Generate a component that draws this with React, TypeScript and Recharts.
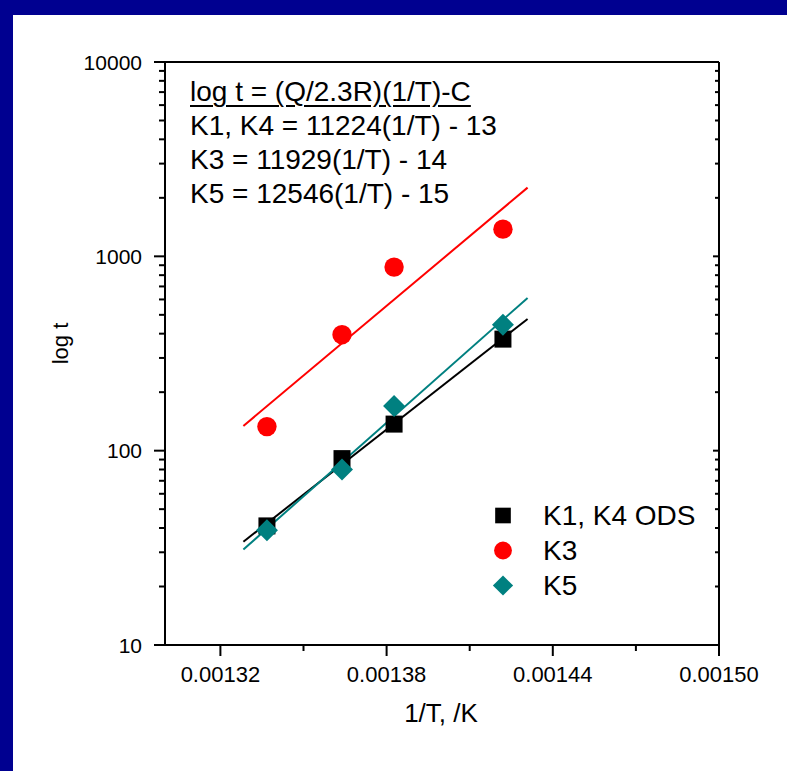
import React from 'react';
import { ScatterChart, Scatter, XAxis, YAxis, Legend } from 'recharts';

// reciprocal annealing temperature, 1/K
const invTemp = [0.0013368, 0.0013639, 0.0013827, 0.001422];

// time to reach the property drop, hours
const timeK1K4 = [41, 91, 137, 375];
const timeK3 = [133, 395, 880, 1380];
const timeK5 = [39, 80, 170, 445];

// end points of the fitted Arrhenius lines
const fitInvTemp = [0.0013283, 0.0014309];
const fitK1K4 = [34, 476];
const fitK3 = [134, 2257];
const fitK5 = [31, 611];

const seriesNames = ['K1, K4 ODS', 'K3', 'K5'];

const xMajorTicks = [0.00132, 0.00138, 0.00144, 0.0015];
const xMinorTicks = [0.00135, 0.00141, 0.00147];
const yMajorTicks = [10, 100, 1000, 10000];
const yMinorTicks = [
  20, 30, 40, 50, 60, 70, 80, 90,
  200, 300, 400, 500, 600, 700, 800, 900,
  2000, 3000, 4000, 5000, 6000, 7000, 8000, 9000,
];

const equationLines = [
  'log t = (Q/2.3R)(1/T)-C',
  'K1, K4 = 11224(1/T) - 13',
  'K3 = 11929(1/T) - 14',
  'K5 = 12546(1/T) - 15',
];

const FONT = '"Liberation Sans", Arial, Helvetica, sans-serif';
const NAVY = '#000090';
const TEAL = '#008080';

const xTicks = [...xMajorTicks, ...xMinorTicks].sort((a, b) => a - b);
const yTicks = [...yMajorTicks, ...yMinorTicks].sort((a, b) => a - b);

const toPoints = (xs: number[], ts: number[]) => xs.map((x, i) => ({ x, t: ts[i] }));

const k1Points = toPoints(invTemp, timeK1K4);
const k3Points = toPoints(invTemp, timeK3);
const k5Points = toPoints(invTemp, timeK5);
const k1Fit = toPoints(fitInvTemp, fitK1K4);
const k3Fit = toPoints(fitInvTemp, fitK3);
const k5Fit = toPoints(fitInvTemp, fitK5);

function drawMarker(name: string, cx: number, cy: number, scale = 1) {
  if (name === 'K3') {
    return <circle cx={cx} cy={cy} r={9.7 * scale} fill="#ff0000" />;
  }
  if (name === 'K5') {
    const h = 11 * scale;
    return (
      <polygon
        points={`${cx},${cy - h} ${cx + h},${cy} ${cx},${cy + h} ${cx - h},${cy}`}
        fill={TEAL}
      />
    );
  }
  const s = 8.5 * scale;
  return <rect x={cx - s} y={cy - s} width={s * 2} height={s * 2} fill="#000" />;
}

const squareShape = (p: any) => drawMarker('K1, K4 ODS', p.cx, p.cy);
const circleShape = (p: any) => drawMarker('K3', p.cx, p.cy);
const diamondShape = (p: any) => drawMarker('K5', p.cx, p.cy);
const noShape = () => <g />;

// ticks are drawn by hand so major and minor marks get different lengths
function BottomTick({ x, y, payload }: any) {
  const major = xMajorTicks.includes(payload.value);
  return (
    <g>
      <line x1={x} y1={y} x2={x} y2={y + (major ? 11 : 6)} stroke="#000" strokeWidth={2} />
      {major && (
        <text x={x} y={y + 37} textAnchor="middle" fontSize={22} fontFamily={FONT} fill="#000">
          {payload.value.toFixed(5)}
        </text>
      )}
    </g>
  );
}

function TopTick({ x, y, payload }: any) {
  const major = xMajorTicks.includes(payload.value);
  return <line x1={x} y1={y} x2={x} y2={y + (major ? 6 : 4)} stroke="#000" strokeWidth={2} />;
}

function LeftTick({ x, y, payload }: any) {
  const major = yMajorTicks.includes(payload.value);
  return (
    <g>
      <line x1={x - (major ? 11 : 6)} y1={y} x2={x} y2={y} stroke="#000" strokeWidth={2} />
      {major && (
        <text x={x - 23} y={y} dy="0.36em" textAnchor="end" fontSize={21} fontFamily={FONT} fill="#000">
          {String(payload.value)}
        </text>
      )}
    </g>
  );
}

function RightTick({ x, y, payload }: any) {
  const major = yMajorTicks.includes(payload.value);
  return <line x1={x - (major ? 6 : 4)} y1={y} x2={x} y2={y} stroke="#000" strokeWidth={2} />;
}

function LegendContent({ payload }: any) {
  const items = (payload || []).filter((entry: any) => seriesNames.includes(entry.value));
  return (
    <div style={{ fontFamily: FONT, fontSize: 28, lineHeight: '35px', color: '#000' }}>
      {items.map((entry: any) => (
        <div key={entry.value} style={{ display: 'flex', alignItems: 'center', height: 35 }}>
          <svg width={26} height={35} style={{ display: 'block' }}>
            {drawMarker(entry.value, 13, 17.5, 0.92)}
          </svg>
          <span style={{ marginLeft: 27, whiteSpace: 'nowrap' }}>{entry.value}</span>
        </div>
      ))}
    </div>
  );
}

const axisLine = { stroke: '#000', strokeWidth: 2 };

export default function App() {
  return (
    <div style={{ position: 'absolute', left: 0, top: 0, width: 787, height: 771, background: '#fff', overflow: 'hidden' }}>
      <div style={{ position: 'absolute', left: 0, top: 0, width: 787, height: 15, background: NAVY }} />
      <div style={{ position: 'absolute', left: 0, top: 0, width: 13, height: 771, background: NAVY }} />

      <div style={{ position: 'absolute', left: 0, top: 0 }}>
        <ScatterChart width={787} height={771} margin={{ top: 62, right: 68, bottom: 0, left: 0 }}>
          <XAxis
            xAxisId="x"
            dataKey="x"
            type="number"
            domain={[0.0013, 0.0015]}
            allowDataOverflow
            ticks={xTicks}
            interval={0}
            height={126}
            tickSize={0}
            tickMargin={0}
            tickLine={false}
            axisLine={axisLine}
            tick={<BottomTick />}
            label={(props: any) => {
              const vb = props.viewBox;
              return (
                <text x={vb.x + vb.width / 2 - 1} y={vb.y + 77} textAnchor="middle" fontSize={26} fontFamily={FONT} fill="#000">
                  1/T, /K
                </text>
              );
            }}
          />
          <XAxis
            xAxisId="top"
            orientation="top"
            mirror
            type="number"
            domain={[0.0013, 0.0015]}
            allowDataOverflow
            ticks={xTicks}
            interval={0}
            tickSize={0}
            tickMargin={0}
            tickLine={false}
            axisLine={axisLine}
            tick={<TopTick />}
          />
          <YAxis
            yAxisId="y"
            dataKey="t"
            type="number"
            scale="log"
            domain={[10, 10000]}
            allowDataOverflow
            ticks={yTicks}
            interval={0}
            width={165}
            tickSize={0}
            tickMargin={0}
            tickLine={false}
            axisLine={axisLine}
            tick={<LeftTick />}
            label={(props: any) => {
              const vb = props.viewBox;
              const cx = vb.x + 68;
              const cy = vb.y + vb.height / 2 - 10;
              return (
                <text x={cx} y={cy} transform={`rotate(-90 ${cx} ${cy})`} textAnchor="middle" fontSize={22} fontFamily={FONT} fill="#000">
                  log t
                </text>
              );
            }}
          />
          <YAxis
            yAxisId="right"
            orientation="right"
            mirror
            type="number"
            scale="log"
            domain={[10, 10000]}
            allowDataOverflow
            ticks={yTicks}
            interval={0}
            tickSize={0}
            tickMargin={0}
            tickLine={false}
            axisLine={axisLine}
            tick={<RightTick />}
          />

          <Scatter xAxisId="x" yAxisId="y" data={k1Fit} fill="#000" line={{ stroke: '#000', strokeWidth: 2 }} shape={noShape} legendType="none" isAnimationActive={false} />
          <Scatter xAxisId="x" yAxisId="y" data={k3Fit} fill="#ff0000" line={{ stroke: '#ff0000', strokeWidth: 2 }} shape={noShape} legendType="none" isAnimationActive={false} />
          <Scatter xAxisId="x" yAxisId="y" data={k5Fit} fill={TEAL} line={{ stroke: TEAL, strokeWidth: 2 }} shape={noShape} legendType="none" isAnimationActive={false} />

          <Scatter name={seriesNames[0]} xAxisId="x" yAxisId="y" data={k1Points} fill="#000" shape={squareShape} isAnimationActive={false} />
          <Scatter name={seriesNames[1]} xAxisId="x" yAxisId="y" data={k3Points} fill="#ff0000" shape={circleShape} isAnimationActive={false} />
          <Scatter name={seriesNames[2]} xAxisId="x" yAxisId="y" data={k5Points} fill={TEAL} shape={diamondShape} isAnimationActive={false} />

          <Legend
            layout="vertical"
            align="center"
            verticalAlign="middle"
            content={<LegendContent />}
            wrapperStyle={{ position: 'absolute', left: 490, top: 497.5, width: 230, height: 105 }}
          />
        </ScatterChart>
      </div>

      <div
        style={{
          position: 'absolute',
          left: 190,
          top: 75,
          fontFamily: FONT,
          fontSize: 28,
          lineHeight: '34px',
          color: '#000',
          whiteSpace: 'nowrap',
        }}
      >
        {equationLines.map((line, i) => (
          <div
            key={line}
            style={
              i === 0
                ? { textDecoration: 'underline', textDecorationThickness: 2, textUnderlineOffset: 4 }
                : undefined
            }
          >
            {line}
          </div>
        ))}
      </div>
    </div>
  );
}
